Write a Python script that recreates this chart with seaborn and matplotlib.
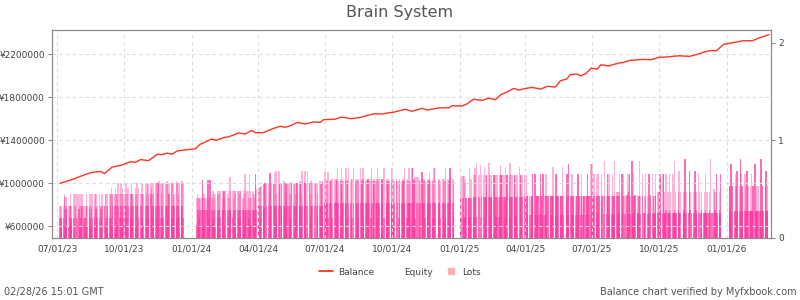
import numpy as np
import pandas as pd
import matplotlib
matplotlib.use("Agg")
import matplotlib.pyplot as plt
import matplotlib.dates as mdates
from matplotlib.lines import Line2D
import seaborn as sns

# ---------------- data ----------------
title = "Brain System"
footer_left = "02/28/26 15:01 GMT"
footer_right = "Balance chart verified by Myfxbook.com"
legend_labels = ["Balance", "Equity", "Lots"]

balance_dates = [
    "2023-07-05", "2023-07-21", "2023-08-08", "2023-08-17", "2023-08-29", "2023-09-04",
    "2023-09-14", "2023-09-28", "2023-10-09", "2023-10-16", "2023-10-23", "2023-11-03",
    "2023-11-15", "2023-11-21", "2023-11-28", "2023-12-05", "2023-12-12", "2023-12-23",
    "2024-01-06", "2024-01-12", "2024-01-28", "2024-02-04", "2024-02-14", "2024-02-20",
    "2024-03-05", "2024-03-14", "2024-03-23", "2024-03-28", "2024-04-08", "2024-04-20",
    "2024-05-01", "2024-05-08", "2024-05-17", "2024-05-24", "2024-06-04", "2024-06-16",
    "2024-06-25", "2024-06-29", "2024-07-15", "2024-07-23", "2024-08-05", "2024-08-18",
    "2024-08-25", "2024-09-06", "2024-09-17", "2024-09-24", "2024-10-03", "2024-10-19",
    "2024-10-28", "2024-11-11", "2024-11-18", "2024-12-04", "2024-12-17", "2024-12-22",
    "2025-01-04", "2025-01-11", "2025-01-20", "2025-02-01", "2025-02-10", "2025-02-19",
    "2025-02-26", "2025-03-09", "2025-03-16", "2025-03-23", "2025-04-01", "2025-04-10",
    "2025-04-22", "2025-05-01", "2025-05-12", "2025-05-19", "2025-05-28", "2025-06-01",
    "2025-06-11", "2025-06-15", "2025-06-22", "2025-06-30", "2025-07-08", "2025-07-13",
    "2025-07-24", "2025-08-07", "2025-08-14", "2025-08-21", "2025-09-08", "2025-09-20",
    "2025-10-01", "2025-10-10", "2025-10-28", "2025-11-11", "2025-11-20", "2025-12-04",
    "2025-12-11", "2025-12-18", "2025-12-28", "2026-01-05", "2026-01-14", "2026-01-23",
    "2026-02-05", "2026-02-14", "2026-02-21", "2026-02-28",
]
balance_values = [
    1000000, 1033000, 1080000, 1100000, 1110000, 1090000,
    1150000, 1170000, 1200000, 1195000, 1220000, 1210000,
    1270000, 1265000, 1280000, 1270000, 1300000, 1310000,
    1320000, 1360000, 1410000, 1400000, 1425000, 1430000,
    1467000, 1458000, 1490000, 1470000, 1470000, 1505000,
    1530000, 1520000, 1540000, 1565000, 1550000, 1570000,
    1565000, 1590000, 1595000, 1615000, 1600000, 1610000,
    1625000, 1645000, 1643000, 1652000, 1660000, 1687000,
    1668000, 1696000, 1680000, 1700000, 1700000, 1720000,
    1717000, 1736000, 1780000, 1770000, 1790000, 1776000,
    1820000, 1855000, 1880000, 1866000, 1880000, 1890000,
    1875000, 1900000, 1894000, 1952000, 1970000, 2008000,
    2014000, 1998000, 2014000, 2070000, 2058000, 2100000,
    2090000, 2117000, 2123000, 2140000, 2150000, 2147000,
    2170000, 2172000, 2184000, 2178000, 2193000, 2224000,
    2233000, 2230000, 2290000, 2300000, 2310000, 2323000,
    2323000, 2348000, 2364000, 2380000,
]

# Lots per trading weekday: tallest trade (top) and overlapping trades (low)
lots_23q3_start = "2023-07-05"
lots_23q3_top = [.33, .33, .20,
                 .33, .45, .33, .42, .33,  .33, .33, .45, .33, .20,
                 .45, .33, .45, 0, .45,    .45, .33, .45, .33, .45,
                 .33, .20, .33, .45, .33,  .45, .33, .45, .33, .45,
                 .33, .45, .45, .33, .33,  .45, .33, .33, .45, .45,
                 .33, .45, .45, .33, .45,  .45, .45, .51, .45, .45,
                 .45, .51, .45, .45, .56,  .45, .56, .45, .51, .45]
lots_23q3_low = [.20, .20, .12,
                 .20, .42, .12, .30, .20,  .12, .20, .33, .20, .12,
                 .20, .12, .33, 0, .20,    .30, .12, .20, .20, .33,
                 .20, .12, .20, .33, .12,  .30, .20, .12, .30, .20,
                 .20, .12, .30, .20, .20,  .20, .12, .30, .20, .33,
                 .33, .20, .12, .20, .30,  .20, .33, .20, .12, .33,
                 .33, .20, .33, .12, .33,  .20, .33, .12, .33, .20]

lots_23q4_start = "2023-10-02"
lots_23q4_top = [.45, .56, .45, .45, .51,  .45, .45, .56, .45, .45,
                 .51, .45, .56, .45, .51,  .45, .56, .45, .56, .45,
                 .56, .45, .56, .56, .45,  .56, .51, .56, .45, .56,
                 .56, .56, .45, .56, .58,  .56, .45, .56, .56, 0,
                 .56, .58, .56, .45, .56,  .56, .56, .58, .56, .45,
                 .58, .56, .56, .45, .56,  .56, .58, .56]
lots_23q4_low = [.33, .20, .33, .12, .33,  .20, .33, .45, .20, .33,
                 .33, .12, .33, .33, .20,  .33, .33, .20, .45, .12,
                 .33, .20, .33, .33, .20,  .45, .33, .20, .33, .33,
                 .33, .20, .33, .56, .33,  .20, .33, .33, .20, 0,
                 .33, .33, .20, .33, .45,  .33, .20, .33, .33, .33,
                 .33, .20, .33, .33, .20,  .33, .33, .20]

lots_24q1_start = "2024-01-08"
lots_24q1_top = [.41, .45, .41, .41, .41,  .41, .59, .41, .45, .41,
                 .41, .59, .41, .41, .59,  .41, .48, .45, .41, .45,
                 .48, .45, .48, .45, .48,  .41, .48, .48, .41, .48,
                 .45, .48, .41, .62, .48,  .48, .41, .48, .48, .45,
                 .48, .48, .45, .48, .48,  .41, .48, .45, .66, .48,
                 .48, .41, .66, .48, .41,  .48, .45, .41, .66, .50]
lots_24q1_low = [.12, .29, .29, .20, .29,  .29, .59, .29, .12, .29,
                 .29, .59, .20, .29, .59,  .29, .20, .29, .29, .12,
                 .29, .20, .29, .29, .20,  .29, .29, .48, .12, .29,
                 .29, .20, .29, .29, .29,  .20, .29, .29, .12, .29,
                 .29, .20, .29, .29, .20,  .29, .29, .12, .29, .29,
                 .29, .20, .29, .29, .12,  .29, .29, .20, .66, .29]

lots_24q2_start = "2024-04-01"
lots_24q2_top = [.50, .51, .52, .53, .53,  .54, .55, .56, 0, .56,
                 .56, .45, .67, .56, .56,  .56, .68, .56, .69, .45,
                 .69, .56, 0, .56, .56,    .58, .56, .45, .56, .56,
                 .56, .45, .58, .56, 0,    .56, .56, .45, .56, .56,
                 .56, .58, .56, .45, .69,  .56, .69, .56, 0, .69,
                 .56, .45, .58, .56, .56,  .56, .56, 0, .56, .45,
                 .58, .56, .56, .58, .56]
lots_24q2_low = [.33, .12, .33, .20, .33,  .33, .31, .56, 0, .33,
                 .33, .20, .67, .33, .33,  .56, .33, .33, .33, .20,
                 .33, .56, 0, .33, .33,    .33, .33, .20, .56, .33,
                 .33, .20, .33, .56, 0,    .33, .33, .20, .33, .56,
                 .33, .33, .56, .20, .33,  .33, .56, .33, 0, .33,
                 .56, .20, .33, .33, .33,  .33, .56, 0, .33, .20,
                 .33, .33, .56, .33, .33]

lots_24q3_start = "2024-07-01"
lots_24q3_top = [.68, .58, .60, .58, .68,  .58, .60, .58, .60, 0,
                 .60, .58, .60, .72, .58,  .60, .58, .72, .60, .58,
                 .60, .72, .58, .60, .72,  .58, .60, .60, 0, .72,
                 .60, .58, .60, .58, .60,  .72, .58, .60, .72, .60,
                 .58, .60, .58, .60, .58,  .60, .72, 0, .58, .60,
                 .58, .60, .72, .58, .60,  .60, .58, .60, 0, .72,
                 .58, .60, .58, .60, .58]
lots_24q3_low = [.36, .20, .36, .36, .20,  .36, .58, .36, .20, 0,
                 .36, .36, .60, .36, .36,  .20, .36, .58, .36, .36,
                 .36, .36, .20, .58, .36,  .36, .36, .20, 0, .36,
                 .58, .36, .36, .20, .36,  .36, .36, .58, .36, .20,
                 .36, .36, .36, .60, .36,  .20, .36, 0, .36, .58,
                 .36, .36, .20, .36, .36,  .36, .60, .36, 0, .20,
                 .36, .36, .58, .36, .36]

lots_24q4_start = "2024-09-30"
lots_24q4_top = [.58, .72, .58, .60, .58,  .60, .58, 0, .58, .60,
                 .58, .60, .58, .60, .72,  .58, .60, .58, .72, .58,
                 .72, .72, .58, .60, .62,  .62, 0, .62, .60, .58,
                 .68, .60, .58, .60, .58,  .60, .58, .60, .68, .58,
                 .60, .58, .72, .72, .60,  0, .60, .58, .60, .58,
                 .60, .58, .60, .58, .72,  .60, .58, .60, .72, .58,
                 .60, .58]
lots_24q4_low = [.36, .36, .20, .36, .36,  .58, .36, 0, .20, .36,
                 .36, .36, .58, .36, .36,  .20, .36, .36, .36, .36,
                 .36, .72, .36, .58, .19,  .36, 0, .36, .20, .36,
                 .68, .36, .36, .36, .20,  .36, .36, .58, .36, .36,
                 .36, .20, .36, .36, .36,  0, .36, .36, .36, .20,
                 .36, .36, .36, .20, .36,  .36, .36, .58, .72, .36,
                 .36, .20]

lots_25q1_start = "2025-01-02"
lots_25q1_top = [.41, .63,
                 .63, .63, .56, .60, .41,  .41, .41, .72, .41, .60,
                 .42, .64, .72, .64, .77,  .64, .64, 0, .75, .64,
                 .64, .73, .42, .64, .64,  .77, .64, .64, .42, .64,
                 .64, .64, .64, .42, .64,  .42, .64, .75, .64, .64,
                 .64, .42, .73, .64, .64,  .64, .77, .64, .42, .64,
                 .64, .64, .42, .64, .64,  .73, .64, .64, .42, .64]
lots_25q1_low = [.41, .20,
                 .41, .20, .22, .22, .41,  .22, .41, .22, .22, .41,
                 .42, .21, .42, .42, .21,  .42, .42, 0, .21, .42,
                 .42, .21, .42, .42, .64,  .42, .42, .21, .42, .42,
                 .64, .42, .42, .21, .42,  .21, .42, .42, .64, .42,
                 .42, .21, .42, .42, .64,  .42, .42, .21, .42, .42,
                 .64, .42, .21, .42, .42,  .42, .64, .42, .21, .42]

lots_25q2_start = "2025-03-31"
lots_25q2_top = [.64, .43, .64, .43, .43,  .43, 0, .43, .43, .66,
                 .66, .43, .43, .43, .43,  .43, .66, .43, .43, .66,
                 .43, .66, .43, 0, .43,    .43, .43, .43, .43, .73,
                 .43, .66, .43, .43, .43,  .43, .43, .43, .73, .43,
                 0, .43, .66, .43, .76,    .43, .43, .66, .43, .43,
                 .43, .43, .43, .66, .43,  .43, .66, 0, .43, .43,
                 .43, .43, .66, .43, .43]
lots_25q2_low = [.43, .24, .43, .24, .43,  .24, 0, .24, .43, .66,
                 .66, .24, .43, .24, .43,  .24, .66, .43, .24, .66,
                 .24, .43, .24, 0, .43,    .24, .43, .24, .43, .43,
                 .24, .66, .43, .24, .43,  .24, .43, .24, .43, .24,
                 0, .43, .66, .24, .76,    .43, .24, .43, .24, .43,
                 .24, .43, .24, .66, .43,  .24, .43, 0, .24, .43,
                 .24, .43, .66, .24, .43]

lots_25q3_start = "2025-06-30"
lots_25q3_top = [.76, .76, .66, .43, .66,  .43, .66, .43, .66, .43,
                 .66, .43, 0, .43, .79,    .43, .66, .43, .66, .43,
                 .43, .66, .43, .43, .79,  .47, .47, .43, .47, .66,
                 .66, .43, .66, 0, .43,    .44, .66, .47, .66, .43,
                 .79, .43, .66, .43, .44,  .44, .26, .43, .79, .43,
                 .66, 0, .26, .43, .66,    .43, .26, .66, .43, .44,
                 .66, .43, .26, .43, .66]
lots_25q3_low = [.43, .25, .43, .25, .43,  .25, .43, .25, .43, .43,
                 .25, .43, 0, .25, .43,    .25, .66, .43, .25, .43,
                 .25, .43, .25, .43, .25,  .43, .25, .43, .25, .43,
                 .66, .25, .43, 0, .25,    .44, .25, .47, .66, .25,
                 .79, .25, .43, .25, .44,  .25, .26, .43, .25, .25,
                 .43, 0, .26, .25, .43,    .25, .26, .66, .25, .44,
                 .25, .43, .26, .25, .43]

lots_25q4_start = "2025-09-29"
lots_25q4_top = [.47, .47, .66, .66, .26,  .66, .66, .47, .26, .66,
                 .47, .26, .66, .47, 0,    .66, .26, .79, .47, .26,
                 .47, .69, .26, .47, 0,    .26, .47, .81, .26, .47,
                 .26, .69, .47, 0, .26,    .47, .26, .69, .47, .26,
                 .66, .47, 0, .26, .47,    .26, .47, .66, .26, .47,
                 .26, .47, .81, 0, .26,    .50, .47, .26, .66, .26,
                 .47, .26, .66, 0, 0]
lots_25q4_low = [.26, .26, .26, .66, .26,  .26, .66, .26, .26, .29,
                 .26, .26, .29, .26, 0,    .26, .26, .29, .26, .26,
                 .29, .26, .26, .26, 0,    .26, .29, .81, .26, .26,
                 .26, .69, .29, 0, .26,    .26, .26, .69, .29, .26,
                 .26, .26, 0, .26, .29,    .26, .26, .29, .26, .26,
                 .26, .29, .26, 0, .26,    .26, .29, .26, .66, .26,
                 .29, .26, .66, 0, 0]

lots_26q1_start = "2026-01-05"
lots_26q1_top = [.53, .53, .76, .53, .53,  .28, .66, .53, .69, .28,
                 .53, .81, .66, .53, .28,  .66, .53, .28, .69, .53,
                 .28, .53, .66, .28, .53,  .76, .28, .53, .28, .53,
                 .28, .81, .69, .53, .28,  .53, .69, .28, .53, 0]
lots_26q1_low = [.53, .28, .76, .28, .53,  .28, .28, .28, .69, .28,
                 .28, .81, .28, .53, .28,  .28, .28, .28, .69, .28,
                 .28, .28, .28, .28, .53,  .76, .28, .28, .28, .28,
                 .28, .81, .28, .53, .28,  .28, .69, .28, .28, 0]

lots_segments = [
    (lots_23q3_start, lots_23q3_top, lots_23q3_low),
    (lots_23q4_start, lots_23q4_top, lots_23q4_low),
    (lots_24q1_start, lots_24q1_top, lots_24q1_low),
    (lots_24q2_start, lots_24q2_top, lots_24q2_low),
    (lots_24q3_start, lots_24q3_top, lots_24q3_low),
    (lots_24q4_start, lots_24q4_top, lots_24q4_low),
    (lots_25q1_start, lots_25q1_top, lots_25q1_low),
    (lots_25q2_start, lots_25q2_top, lots_25q2_low),
    (lots_25q3_start, lots_25q3_top, lots_25q3_low),
    (lots_25q4_start, lots_25q4_top, lots_25q4_low),
    (lots_26q1_start, lots_26q1_top, lots_26q1_low),
]

balance_ticks = [600000, 1000000, 1400000, 1800000, 2200000]
lots_ticks = [0, 1, 2]

# ---------------- style ----------------
sns.set_style("white")
plt.rcParams["font.family"] = ["DejaVu Sans"]

text_color = "#555555"
tick_color = "#444444"
spine_color = "#8a8a8a"
line_color = "#ff3322"
lots_color = "#ff2a9a"

fig = plt.figure(figsize=(8, 3), dpi=100)
ax = fig.add_axes([0.065, 0.2067, 0.899, 0.6933])
axr = ax.twinx()
ax.set_zorder(axr.get_zorder() + 1)
ax.patch.set_visible(False)

# lots bars (right axis)
for start, top, low in lots_segments:
    days = pd.bdate_range(start, periods=len(top))
    top = np.asarray(top, dtype=float)
    low = np.asarray(low, dtype=float)
    mt = top > 0
    ml = low > 0
    axr.bar(days[mt], top[mt], width=2.0, color=lots_color, alpha=0.36,
            linewidth=0, align="center", antialiased=False)
    axr.bar(days[ml], low[ml], width=2.0, color=lots_color, alpha=0.5,
            linewidth=0, align="center", antialiased=False)

# balance line (left axis)
bal_df = pd.DataFrame({"date": pd.to_datetime(balance_dates),
                       "balance": balance_values})
sns.lineplot(data=bal_df, x="date", y="balance", ax=ax, color=line_color,
             linewidth=1.0, legend=False)

ax.set_xlim(pd.Timestamp("2023-06-24"), pd.Timestamp("2026-03-03"))
ax.set_ylim(492000, 2423000)
axr.set_ylim(0, 2.13)

xt = pd.date_range("2023-07-01", "2026-01-01", freq="QS")
ax.set_xticks(xt)
ax.xaxis.set_major_formatter(mdates.DateFormatter("%m/%d/%y"))
ax.set_yticks(balance_ticks)
ax.set_yticklabels([f"¥{v}" for v in balance_ticks])
axr.set_yticks(lots_ticks)
axr.set_yticklabels([str(v) for v in lots_ticks])

ax.set_xlabel("")
ax.set_ylabel("")
axr.set_ylabel("")

ax.grid(True, axis="both", linestyle=(0, (3, 3)), color="#dcdcdc", linewidth=0.8)
axr.grid(False)

for a in (ax, axr):
    for s in a.spines.values():
        s.set_color(spine_color)
        s.set_linewidth(0.8)
        s.set_visible(True)
    a.tick_params(axis="both", labelsize=6.5, colors=spine_color, labelcolor=tick_color,
                  length=3, width=0.8, pad=2)

# title
fig.text(0.5, 0.958, title, ha="center", va="center", fontsize=11.5, color=text_color)

# legend
handles = [
    Line2D([], [], color="#ff2200", linewidth=1.2),
    Line2D([], [], color="none", linewidth=1.2),
    Line2D([], [], color="#ffb0b0", marker="s", linestyle="", markersize=5),
]
fig.legend(handles, legend_labels, loc="center", bbox_to_anchor=(0.5, 0.093), ncol=3,
           frameon=False, fontsize=6.5, handlelength=1.6, handletextpad=0.5,
           columnspacing=1.2, labelcolor=tick_color)

# footer
fig.text(0.005, 0.027, footer_left, ha="left", va="center", fontsize=7, color=text_color)
fig.text(0.996, 0.027, footer_right, ha="right", va="center", fontsize=7, color=text_color)

fig.savefig("out.png", dpi=100, facecolor="white")
